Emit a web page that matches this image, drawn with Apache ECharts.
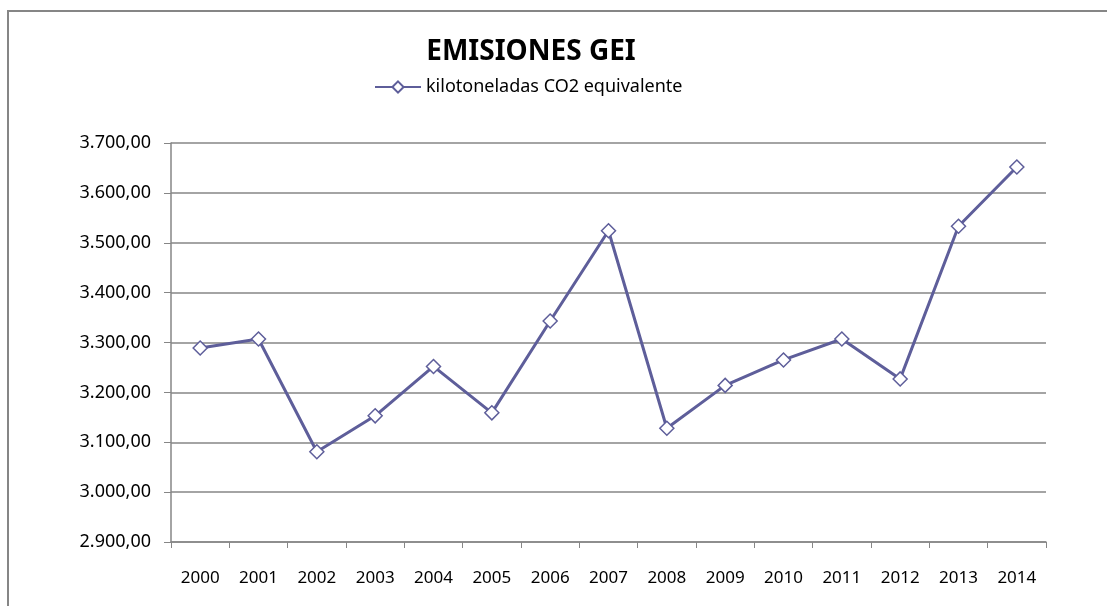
<!DOCTYPE html>
<html><head><meta charset="utf-8">
<script src="https://cdn.jsdelivr.net/npm/echarts@6/dist/echarts.min.js"></script>
<style>html,body{margin:0;padding:0;background:#fff}#c{width:1107px;height:606px}</style>
</head><body><div id="c"></div>
<script>
const years = ['2000','2001','2002','2003','2004','2005','2006','2007','2008','2009','2010','2011','2012','2013','2014'];
const emissions = [3289, 3307, 3081, 3153, 3252, 3159, 3343, 3524, 3128, 3214, 3265, 3307, 3227, 3533, 3652];
const seriesName = 'kilotoneladas CO2 equivalente';
const titleText = 'EMISIONES GEI';
const yMin = 2900, yMax = 3700, yStep = 100;

const font = '"Noto Sans", sans-serif';
const fmt = v => {
  const s = Math.round(v).toString().replace(/\B(?=(\d{3})+(?!\d))/g, '.');
  return s + ',00';
};
const chart = echarts.init(document.getElementById('c'), null, {renderer:'canvas'});
chart.setOption({
  animation:false,
  backgroundColor:'#fff',
  graphic:[{type:'rect',shape:{x:8,y:11,width:1200,height:700},style:{fill:'none',stroke:'#868686',lineWidth:2},silent:true}],
  title:{text:titleText,left:526,top:33,textAlign:'center',textStyle:{fontFamily:font,fontWeight:'bold',fontSize:28,color:'#000'}},
  legend:{data:[seriesName],left:369,top:73,itemWidth:46,itemHeight:14,itemGap:6,
    textStyle:{fontFamily:font,fontSize:18,color:'#000'}},
  grid:{left:171,right:61,top:143,bottom:64,containLabel:false},
  xAxis:{type:'category',data:years,boundaryGap:true,
    axisLine:{lineStyle:{color:'#868686',width:1.5}},
    axisTick:{show:true,length:6,inside:false,alignWithLabel:false,lineStyle:{color:'#868686'}},
    axisLabel:{fontFamily:font,fontSize:17,color:'#000',margin:28},splitLine:{show:false}},
  yAxis:{type:'value',min:yMin,max:yMax,interval:yStep,
    axisLine:{show:true,lineStyle:{color:'#868686',width:1.5}},
    axisTick:{show:true,length:7,lineStyle:{color:'#868686'}},
    axisLabel:{fontFamily:font,fontSize:18,color:'#000',margin:20,formatter:fmt},
    splitLine:{lineStyle:{color:'#868686',width:1.5}}},
  series:[{name:seriesName,type:'line',data:emissions,symbol:'diamond',symbolSize:14,
    lineStyle:{color:'#5E5E9A',width:3},
    itemStyle:{color:'#fff',borderColor:'#5E5E9A',borderWidth:1.5}}]
});
</script></body></html>
